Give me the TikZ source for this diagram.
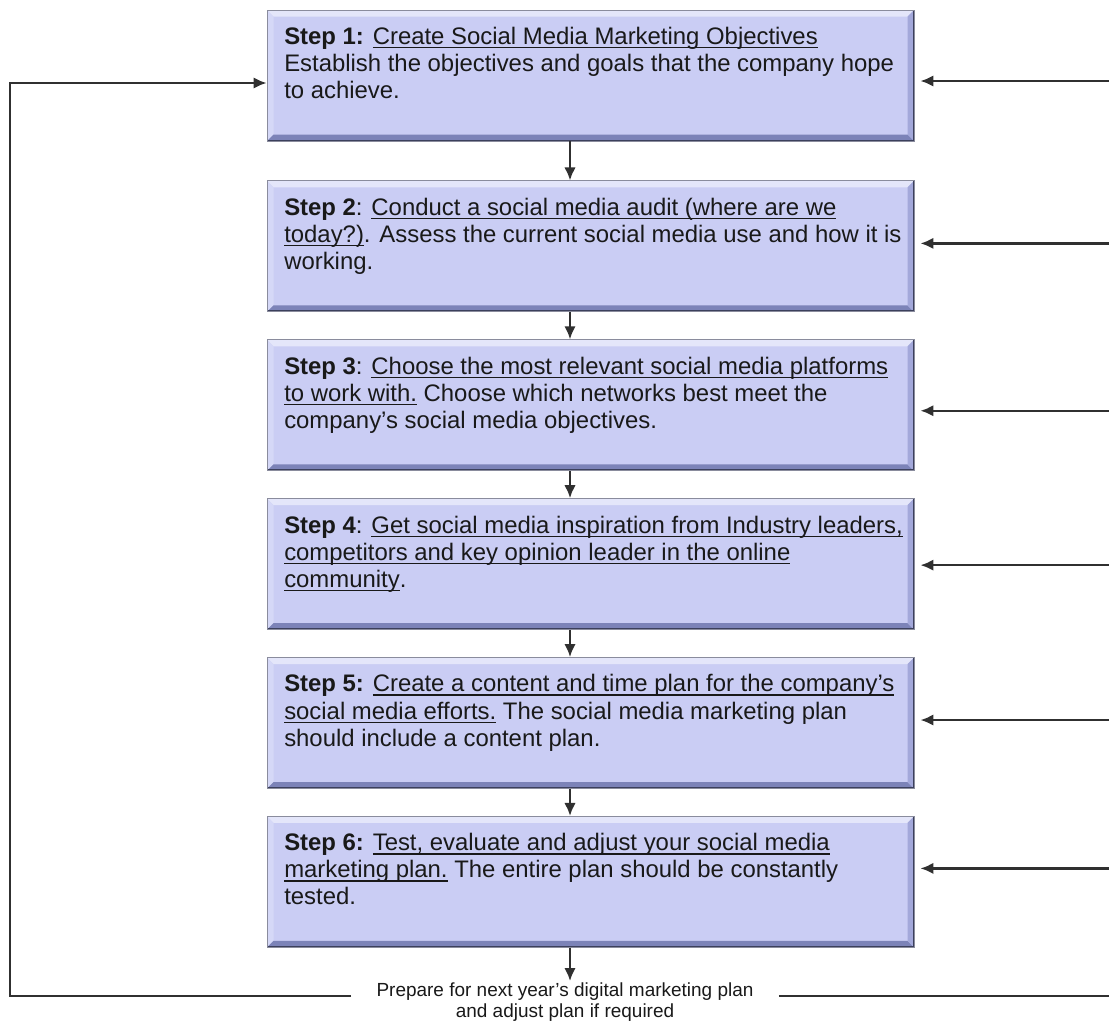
\documentclass[tikz,border=0pt]{standalone}
\usepackage{fontspec}
\setmainfont{Liberation Sans}
\usepackage{xcolor}
\definecolor{boxfill}{HTML}{CACDF4}
\definecolor{bevtop}{HTML}{E4E6FA}
\definecolor{bevleft}{HTML}{D5D8F7}
\definecolor{bevbottom}{HTML}{7C83B8}
\definecolor{bevright}{HTML}{A3A8DA}
\definecolor{boxedge}{HTML}{3C405C}
\definecolor{linegray}{HTML}{303030}
\usepackage{tikz}
\usetikzlibrary{positioning,arrows.meta}

\tikzset{
  stepbox/.style={minimum width=12.94cm,minimum height=2.62cm,inner sep=0pt,fill=boxfill,draw=boxedge!60,line width=0.5pt,
    path picture={
      \path (path picture bounding box.south west) coordinate (bl) (path picture bounding box.north east) coordinate (tr)
            (bl |- tr) coordinate (tl) (tr |- bl) coordinate (br);
      \fill[bevtop] (tl) -- (tr) -- ([shift={(-0.13,-0.13)}]tr) -- ([shift={(0.13,-0.13)}]tl) -- cycle;
      \fill[bevleft] (tl) -- (bl) -- ([shift={(0.13,0.13)}]bl) -- ([shift={(0.13,-0.13)}]tl) -- cycle;
      \fill[bevbottom] (bl) -- (br) -- ([shift={(-0.13,0.13)}]br) -- ([shift={(0.13,0.13)}]bl) -- cycle;
      \fill[bevright] (br) -- (tr) -- ([shift={(-0.13,-0.13)}]tr) -- ([shift={(-0.13,0.13)}]br) -- cycle;
      \draw[boxedge,line width=1.6pt] (bl) -- (br) -- (tr);
    }},
  flow/.style={-{Latex[length=2.6mm,width=2.3mm]},line width=1.3pt,draw=linegray},
  loop/.style={line width=1.3pt,draw=linegray},
}
% text block of a step, lines broken by hand
\newcommand{\steptext}[1]{\parbox[t][2.0cm][t]{12.25cm}{\fontsize{13.6}{15.4}\selectfont
  \color{black!90}\begin{tabular}[t]{@{}l@{}}#1\end{tabular}}}
\newcommand{\ulined}[1]{\setbox0\hbox{#1}\rlap{\rule[-2.3pt]{\wd0}{0.9pt}}\box0\relax}

\begin{document}
\begin{tikzpicture}
  \useasboundingbox (0,0) rectangle (22.18,-20.48);
  % the six steps
  \node[stepbox] (s1) at (11.81,-1.51) {\steptext{\textbf{Step 1:} \ulined{Create Social Media Marketing Objectives}\\ Establish the objectives and goals that the company hope\\ to achieve.}};
  \node[stepbox,below=0.78cm of s1] (s2) {\steptext{\textbf{Step 2}: \ulined{Conduct a social media audit (where are we}\\ \ulined{today?)}. Assess the current social media use and how it is\\ working.}};
  \node[stepbox,below=0.54cm of s2] (s3) {\steptext{\textbf{Step 3}: \ulined{Choose the most relevant social media platforms}\\ \ulined{to work with.} Choose which networks best meet the\\ company’s social media objectives.}};
  \node[stepbox,below=0.54cm of s3] (s4) {\steptext{\textbf{Step 4}: \ulined{Get social media inspiration from Industry leaders,}\\ \ulined{competitors and key opinion leader in the online}\\ \ulined{community}.}};
  \node[stepbox,below=0.54cm of s4] (s5) {\steptext{\textbf{Step 5:} \ulined{Create a content and time plan for the company’s}\\ \ulined{social media efforts.} The social media marketing plan\\ should include a content plan.}};
  \node[stepbox,below=0.54cm of s5] (s6) {\steptext{\textbf{Step 6:} \ulined{Test, evaluate and adjust your social media}\\ \ulined{marketing plan.} The entire plan should be constantly\\ tested.}};
  \node[align=center,inner xsep=0.5cm,inner ysep=1pt,text=black!90,font=\fontsize{10.8}{12}\selectfont] (next) at (11.3,-20.05) {Prepare for next year’s digital marketing plan\\ and adjust plan if required};

  % down the steps
  \foreach \a/\b in {s1/s2,s2/s3,s3/s4,s4/s5,s5/s6}
    \draw[flow] ([xshift=-0.41cm]\a.south) -- ([xshift=-0.41cm]\b.north);
  \draw[flow] ([xshift=-0.41cm]s6.south) -- ([xshift=-0.41cm]s6.south |- next.north);

  % feedback loop
  \coordinate (loopL) at (0.2,-19.92);
  \coordinate (loopR) at (22.18,-19.92);
  \draw[loop,-{Latex[length=2.6mm,width=2.3mm]}] (loopL -| next.west) -- (loopL) |- ([yshift=-0.15cm]s1.west);
  \draw[loop] (loopR -| next.east) -- (loopR);
  \foreach \s/\dy in {s1/-0.11,s2/0.06,s3/-0.11,s4/-0.02,s5/0.06,s6/0.27}
    \draw[flow,shorten >=0.12cm] ([yshift=\dy cm]\s.east -| loopR) -- ([yshift=\dy cm]\s.east);
\end{tikzpicture}
\end{document}
